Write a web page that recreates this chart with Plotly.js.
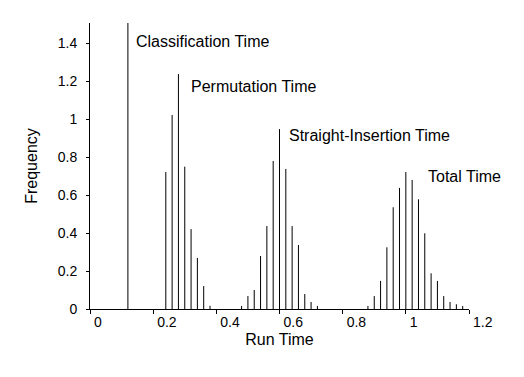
<!DOCTYPE html>
<html>
<head>
<meta charset="utf-8">
<script src="https://cdn.plot.ly/plotly-3.0.1.min.js"></script>
<style>html,body{margin:0;padding:0;background:#fff;}#chart{width:524px;height:377px;}</style>
</head>
<body>
<div id="chart"></div>
<script>
// ---- data ----
const classX = [0.12];
const classY = [1.52];

const permX = [0.24, 0.26, 0.28, 0.30, 0.32, 0.34, 0.36, 0.38];
const permY = [0.722, 1.022, 1.238, 0.750, 0.421, 0.269, 0.121, 0.017];

const insX = [0.48, 0.50, 0.52, 0.54, 0.56, 0.58, 0.60, 0.62, 0.64, 0.66, 0.68, 0.70, 0.72];
const insY = [0.016, 0.068, 0.100, 0.279, 0.437, 0.780, 0.948, 0.738, 0.437, 0.337, 0.079, 0.037, 0.016];

const totX = [0.88, 0.90, 0.92, 0.94, 0.96, 0.98, 1.00, 1.02, 1.04, 1.06, 1.08, 1.10, 1.12, 1.14, 1.16, 1.18];
const totY = [0.016, 0.068, 0.148, 0.325, 0.536, 0.638, 0.722, 0.680, 0.578, 0.399, 0.188, 0.148, 0.068, 0.037, 0.025, 0.016];

const labelText = ["Classification Time", "Permutation Time", "Straight-Insertion Time", "Total Time"];
const labelX = [0.140, 0.314, 0.625, 1.064];
const labelY = [1.410, 1.174, 0.915, 0.699];

const xTicks = [0, 0.2, 0.4, 0.6, 0.8, 1, 1.2];
const yTicks = [0, 0.2, 0.4, 0.6, 0.8, 1, 1.2, 1.4];

// ---- build needle segments ----
function needles(xs, ys) {
  const x = [], y = [];
  for (let i = 0; i < xs.length; i++) {
    x.push(xs[i], xs[i], null);
    y.push(0, ys[i], null);
  }
  return {x, y};
}

const series = [[classX, classY], [permX, permY], [insX, insY], [totX, totY]];
const traces = series.map(([xs, ys]) => {
  const n = needles(xs, ys);
  return {
    type: 'scatter', mode: 'lines', x: n.x, y: n.y,
    line: {color: '#000', width: 1}, hoverinfo: 'skip', showlegend: false
  };
});

const FONT = 'Liberation Sans, Arial, Helvetica, sans-serif';

const annotations = labelText.map((t, i) => ({
  text: t, x: labelX[i], y: labelY[i], xref: 'x', yref: 'y',
  xanchor: 'left', yanchor: 'middle', showarrow: false,
  font: {family: FONT, size: 16, color: '#000'}
}));

const layout = {
  width: 524, height: 377,
  margin: {l: 90, r: 55, t: 23, b: 68},
  paper_bgcolor: '#fff', plot_bgcolor: '#fff',
  font: {family: FONT, size: 14, color: '#000'},
  showlegend: false,
  xaxis: {
    range: [0, 1.2], tickvals: xTicks, ticks: 'outside', ticklen: 4, tickwidth: 1,
    tickcolor: '#000', showline: true, linecolor: '#000', linewidth: 1,
    showgrid: false, zeroline: false, ticklabelposition: 'outside right',
    ticklabelshift: 3,
    tickfont: {family: FONT, size: 14, color: '#000'},
    title: {text: 'Run Time', font: {family: FONT, size: 16, color: '#000'}, standoff: 5}
  },
  yaxis: {
    range: [0, 1.507], tickvals: yTicks, ticks: 'outside', ticklen: 3, tickwidth: 1,
    tickcolor: '#000', showline: true, linecolor: '#000', linewidth: 1,
    showgrid: false, zeroline: false, ticklabelstandoff: 6,
    tickfont: {family: FONT, size: 14, color: '#000'},
    title: {text: 'Frequency', font: {family: FONT, size: 16, color: '#000'}, standoff: 16}
  },
  annotations: annotations
};

Plotly.newPlot('chart', traces, layout, {displayModeBar: false, staticPlot: true});
</script>
</body>
</html>
